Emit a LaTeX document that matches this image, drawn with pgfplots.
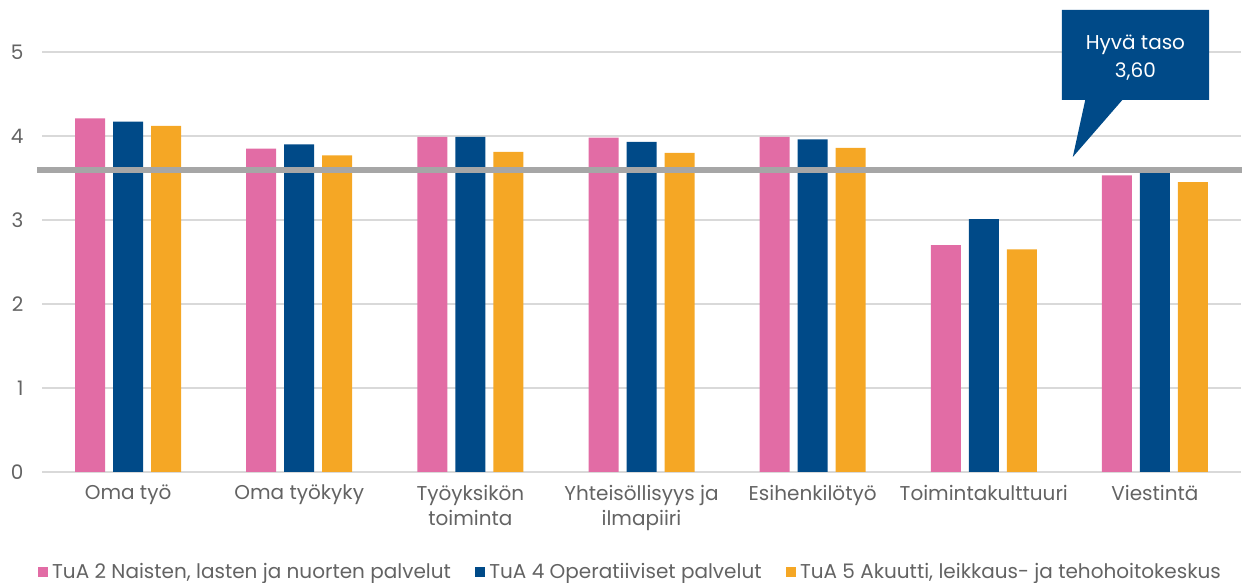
\documentclass[border=0pt]{standalone}
\usepackage{fontspec}
\setmainfont{Poppins}
\usepackage{pgfplots}
\pgfplotsset{compat=1.18}

\definecolor{pinkbar}{HTML}{E26CA5}
\definecolor{bluebar}{HTML}{004A88}
\definecolor{orangebar}{HTML}{F5A725}
\definecolor{refgray}{HTML}{A6A6A6}
\definecolor{gridgray}{HTML}{D9D9D9}
\definecolor{textgray}{HTML}{636363}

\begin{document}
\begin{tikzpicture}[font=\fontsize{10}{12.5}\selectfont]
\begin{axis}[
  name=ax,
  scale only axis,
  width=599pt, height=210pt,
  xmin=-0.5, xmax=6.5,
  ymin=0, ymax=5,
  ytick={0,1,2,3,4,5},
  xtick={0,1,2,3,4,5,6},
  xticklabels={Oma työ, Oma työkyky, {Työyksikön\\toiminta}, {Yhteisöllisyys ja\\ilmapiiri}, Esihenkilötyö, Toimintakulttuuri, Viestintä},
  xticklabel style={align=center, anchor=north, yshift=-3pt, text=textgray},
  yticklabel style={anchor=east, xshift=-6pt, text=textgray},
  /pgf/number format/assume math mode=true,
  ymajorgrids,
  grid style={draw=gridgray, line width=1pt},
  axis line style={draw=none},
  major tick length=0pt,
  tick style={draw=none},
  clip=false,
  legend columns=3,
  legend style={at={(0.4915,0)}, anchor=center, yshift=-50pt, draw=none,
    fill=none, inner sep=0pt, text=textgray,
    /tikz/every even column/.append style={column sep=10pt}},
  legend image code/.code={\fill[#1] (0pt,-2.6pt) rectangle (5.2pt,2.6pt);},
]
% Naisten, lasten ja nuorten palvelut
\addplot[ybar, bar width=15pt, bar shift=-19pt, fill=pinkbar, draw=none]
  coordinates {(0,4.21) (1,3.85) (2,3.99) (3,3.98) (4,3.99) (5,2.70) (6,3.53)};
% Operatiiviset palvelut
\addplot[ybar, bar width=15pt, bar shift=0pt, fill=bluebar, draw=none]
  coordinates {(0,4.17) (1,3.90) (2,3.99) (3,3.93) (4,3.96) (5,3.01) (6,3.57)};
% Akuutti, leikkaus- ja tehohoitokeskus
\addplot[ybar, bar width=15pt, bar shift=19pt, fill=orangebar, draw=none]
  coordinates {(0,4.12) (1,3.77) (2,3.81) (3,3.80) (4,3.86) (5,2.65) (6,3.45)};
\legend{{TuA 2 Naisten, lasten ja nuorten palvelut}, {TuA 4 Operatiiviset palvelut}, {TuA 5 Akuutti, leikkaus- ja tehohoitokeskus}}

% target level
\addplot[forget plot, sharp plot, no marks, draw=refgray, line width=3pt]
  coordinates {(-0.53,3.6) (6.51,3.6)};

% callout
\fill[bluebar] (axis cs:5.456,5.5) -- (axis cs:6.316,5.5) -- (axis cs:6.316,4.43)
  -- (axis cs:5.81,4.43) -- (axis cs:5.52,3.75) -- (axis cs:5.593,4.43)
  -- (axis cs:5.456,4.43) -- cycle;
\node[text=white, align=center, font=\fontsize{10}{14}\selectfont]
  at (axis cs:5.886,4.93) {Hyvä taso\\3,60};
\end{axis}
\pgfresetboundingbox
\path[use as bounding box] ([xshift=-21.25pt,yshift=-55.5pt]ax.south west)
  rectangle ([xshift=0.75pt,yshift=26pt]ax.north east);
\end{tikzpicture}
\end{document}
